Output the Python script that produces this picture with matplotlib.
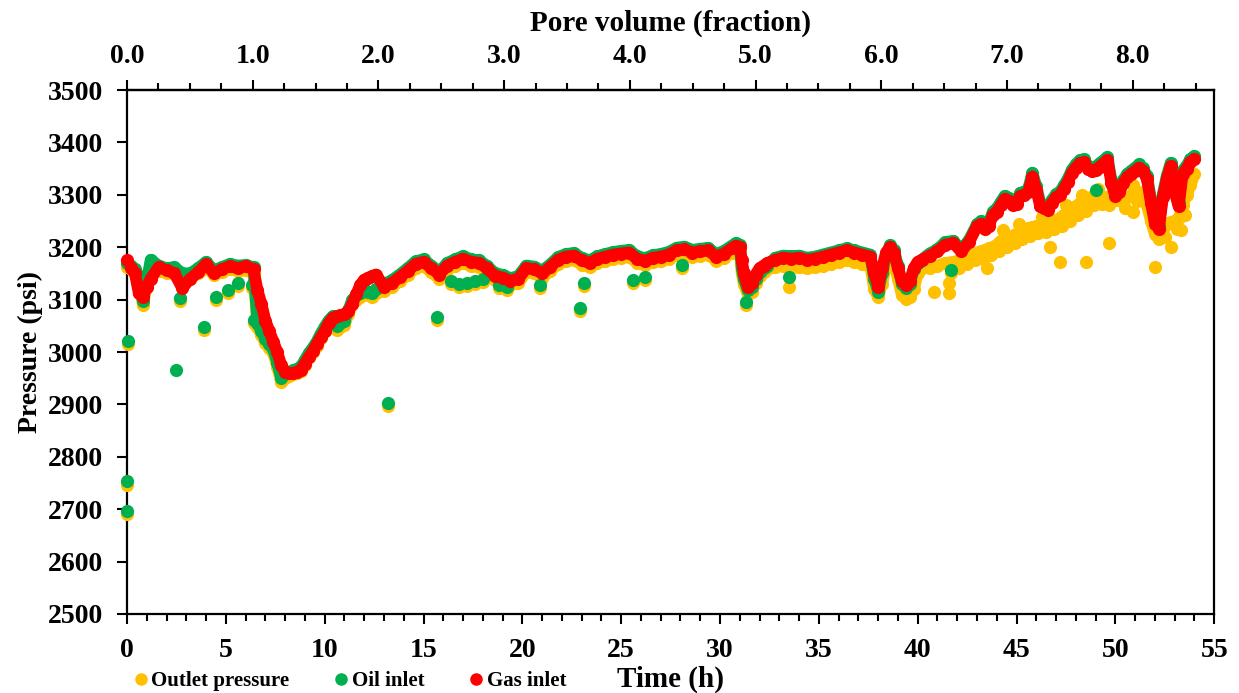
import matplotlib
matplotlib.use("Agg")
import matplotlib.pyplot as plt
from matplotlib.ticker import MultipleLocator, FormatStrFormatter
from matplotlib.lines import Line2D

# main logged curve: time (h) and the three pressures (psi)
time_h = [
    0.0, 0.2, 0.4, 0.6, 0.8, 1.0, 1.2, 1.6, 2.0, 2.4, 2.8, 3.2, 3.6, 4.0, 4.4, 4.8, 5.2, 5.6, 6.0, 6.4,
    6.6, 6.8, 7.0, 7.2, 7.4, 7.6, 7.8, 8.0, 8.2, 8.4, 8.6, 8.8, 9.0, 9.2, 9.4, 9.6, 9.8, 10.0, 10.2, 10.4,
    10.6, 10.8, 11.0, 11.2, 11.4, 11.6, 11.8, 12.0, 12.2, 12.4, 12.6,
    13.0, 13.4, 13.8, 14.2, 14.6, 15.0, 15.4, 15.8, 16.2, 16.6, 17.0, 17.4, 17.8, 18.2, 18.6, 19.0, 19.4,
    19.8, 20.2, 20.6, 21.0, 21.4, 21.8, 22.2, 22.6, 23.0, 23.4, 23.8, 24.2, 24.6, 25.0, 25.4, 25.8, 26.2,
    26.6, 27.0, 27.4, 27.8, 28.2, 28.6, 29.0, 29.4, 29.8, 30.2, 30.6,
    30.8, 31.0, 31.1, 31.2, 31.4, 31.6, 31.8, 32.0, 32.2, 32.4,
    32.8, 33.2, 33.6, 34.0, 34.4, 34.8, 35.2, 35.6, 36.0, 36.4, 36.8, 37.2, 37.6,
    37.8, 38.0, 38.2, 38.4, 38.6, 38.8, 39.0, 39.2, 39.4, 39.6, 39.8, 40.0, 40.2,
    40.6, 41.0, 41.4, 41.8, 42.2, 42.6, 43.0,
    43.2, 43.4, 43.6, 43.8, 44.0, 44.2, 44.4, 44.6, 44.8, 45.0, 45.2, 45.4, 45.6, 45.8, 46.0, 46.2, 46.4,
    46.6, 46.8, 47.0, 47.2, 47.4, 47.6, 47.8, 48.0, 48.2, 48.4, 48.6, 48.8, 49.0, 49.2, 49.4, 49.6, 49.8,
    50.0, 50.2, 50.4, 50.6, 50.8, 51.0, 51.2, 51.4, 51.6, 51.8, 52.0, 52.2, 52.4, 52.6, 52.8, 53.0, 53.2,
    53.4, 53.6, 53.8, 54.0,
]

gas_inlet = [
    3175, 3160, 3150, 3112, 3105, 3125, 3140, 3162, 3156, 3150, 3122, 3140, 3152, 3168, 3150, 3158, 3164, 3160, 3164, 3158,
    3118, 3092, 3060, 3040, 3020, 3000, 2975, 2962, 2960, 2960, 2962, 2966, 2978, 2990, 3002, 3015, 3028, 3040, 3055, 3065,
    3068, 3070, 3072, 3078, 3092, 3110, 3128, 3138, 3142, 3145, 3148,
    3125, 3132, 3143, 3155, 3168, 3172, 3160, 3148, 3165, 3172, 3178, 3172, 3170, 3160, 3146, 3142, 3136,
    3140, 3160, 3158, 3150, 3162, 3176, 3182, 3184, 3175, 3170, 3178, 3182, 3186, 3188, 3190, 3178, 3174,
    3180, 3182, 3186, 3194, 3196, 3190, 3192, 3194, 3182, 3188, 3198,
    3203, 3200, 3175, 3150, 3125, 3132, 3148, 3160, 3165, 3170,
    3176, 3180, 3178, 3180, 3176, 3178, 3182, 3186, 3190, 3194, 3190, 3186, 3182,
    3150, 3125, 3160, 3190, 3200, 3190, 3160, 3135, 3128, 3135, 3160, 3172, 3176,
    3184, 3192, 3205, 3208, 3192, 3210, 3240,
    3245, 3235, 3240, 3262, 3268, 3280, 3292, 3288, 3280, 3282, 3298, 3300, 3305, 3335, 3310, 3278, 3275,
    3272, 3285, 3295, 3300, 3312, 3325, 3342, 3352, 3360, 3362, 3350, 3345, 3348, 3354, 3360, 3366, 3322,
    3298, 3305, 3322, 3334, 3340, 3346, 3352, 3345, 3330, 3285, 3245, 3235, 3295, 3330, 3355, 3305, 3278,
    3340, 3350, 3362, 3368,
]

oil_inlet = [
    3170, 3165, 3158, 3145, 3098, 3135, 3176, 3165, 3160, 3162, 3150, 3150, 3160, 3172, 3156, 3162, 3168, 3165, 3166, 3162,
    3055, 3040, 3025, 3015, 3005, 2980, 2950, 2958, 2962, 2965, 2968, 2972, 2985, 2998, 3008, 3020, 3035, 3048, 3060, 3068,
    3050, 3055, 3060, 3080, 3100, 3108, 3112, 3120, 3115, 3112, 3120,
    3130, 3137, 3148, 3160, 3173, 3177, 3165, 3153, 3170, 3177, 3183, 3177, 3175, 3165, 3151, 3147, 3141,
    3145, 3165, 3163, 3155, 3167, 3181, 3187, 3189, 3180, 3175, 3183, 3187, 3191, 3193, 3195, 3183, 3179,
    3185, 3187, 3191, 3199, 3201, 3195, 3197, 3199, 3187, 3193, 3203,
    3208, 3205, 3160, 3140, 3118, 3125, 3140, 3152, 3160, 3165,
    3180, 3184, 3183, 3184, 3180, 3182, 3186, 3190, 3194, 3198, 3194, 3190, 3186,
    3140, 3115, 3150, 3185, 3204, 3194, 3165, 3130, 3122, 3130, 3158, 3170, 3176,
    3188, 3196, 3210, 3212, 3196, 3214, 3244,
    3250, 3240, 3246, 3268, 3274, 3286, 3298, 3294, 3286, 3288, 3304, 3306, 3312, 3342, 3316, 3284, 3281,
    3278, 3291, 3301, 3306, 3318, 3331, 3348, 3358, 3366, 3368, 3356, 3351, 3354, 3360, 3366, 3372, 3328,
    3304, 3311, 3328, 3340, 3346, 3352, 3358, 3351, 3336, 3291, 3251, 3241, 3301, 3336, 3361, 3311, 3284,
    3346, 3356, 3368, 3374,
]

outlet_pressure = [
    3162, 3158, 3150, 3138, 3090, 3125, 3165, 3155, 3150, 3152, 3140, 3140, 3150, 3160, 3148, 3152, 3158, 3155, 3156, 3150,
    3048, 3033, 3018, 3008, 2998, 2972, 2942, 2950, 2955, 2958, 2960, 2964, 2976, 2990, 3000, 3012, 3026, 3040, 3052, 3060,
    3042, 3047, 3052, 3072, 3092, 3100, 3105, 3112, 3108, 3105, 3112,
    3117, 3124, 3135, 3147, 3160, 3164, 3152, 3140, 3157, 3164, 3170, 3164, 3162, 3152, 3138, 3134, 3128,
    3132, 3152, 3150, 3142, 3154, 3168, 3174, 3176, 3167, 3162, 3170, 3174, 3178, 3180, 3182, 3170, 3166,
    3172, 3174, 3178, 3186, 3188, 3182, 3184, 3186, 3174, 3180, 3190,
    3196, 3192, 3150, 3130, 3110, 3115, 3132, 3145, 3152, 3158,
    3162, 3165, 3160, 3162, 3160, 3162, 3165, 3168, 3172, 3175, 3172, 3168, 3165,
    3120, 3105, 3130, 3165, 3180, 3170, 3140, 3108, 3102, 3105, 3120, 3150, 3160,
    3160, 3165, 3170, 3172, 3176, 3182, 3190,
    3192, 3195, 3198, 3200, 3205, 3212, 3215, 3218, 3222, 3226, 3230, 3232, 3236, 3238, 3240, 3242, 3244,
    3246, 3248, 3252, 3256, 3262, 3266, 3272, 3278, 3284, 3290, 3294, 3296, 3298, 3298, 3296, 3295, 3292,
    3290, 3290, 3292, 3296, 3300, 3303, 3305, 3300, 3280, 3250, 3225, 3215, 3235, 3245, 3248, 3250, 3255,
    3280, 3300, 3318, 3340,
]

# scattered oil-inlet readings
oil_extra_t = [0.05, 0.02, 0.0, 2.5, 2.7, 3.9, 4.5, 5.1, 5.6, 6.3, 6.4, 13.2, 15.7, 16.4, 16.8, 17.2,
               17.6, 18.0, 18.8, 19.2, 20.9, 22.9, 23.1, 25.6, 26.2, 28.1, 31.3, 33.5, 41.7, 49.0]
oil_extra_p = [3021, 2753, 2697, 2966, 3103, 3048, 3105, 3118, 3132, 3128, 3062, 2903, 3067, 3135, 3130, 3132,
               3136, 3140, 3128, 3125, 3128, 3085, 3132, 3137, 3143, 3166, 3095, 3143, 3157, 3309]

# scattered outlet readings (under the oil points and the wide band after 40 h)
outlet_extra_t = [0.05, 0.02, 0.0, 2.7, 3.9, 4.5, 5.1, 5.6, 6.3, 6.4, 13.2, 15.7, 16.4, 16.8, 17.2,
                  17.6, 18.0, 18.8, 19.2, 20.9, 22.9, 23.1, 25.6, 26.2, 28.1, 31.3, 33.5, 41.7,
                  40.8, 41.6, 41.6, 43.5, 46.7, 48.5, 49.7, 50.9, 52.0, 52.8, 53.3, 47.2,
                  42.1, 42.5, 42.9, 43.3, 43.7, 44.1, 44.5, 44.9, 45.3, 45.7, 46.1, 46.5, 46.9, 47.3,
                  47.7, 48.1, 48.5, 48.9, 49.3, 49.7, 50.5, 51.1, 52.5, 53.1, 53.5,
                  44.3, 45.1, 46.3, 47.5, 48.3, 49.1, 50.9, 53.7]
outlet_extra_p = [3015, 2747, 2691, 3097, 3042, 3099, 3112, 3126, 3122, 3056, 2897, 3061, 3129, 3124, 3126,
                  3130, 3134, 3122, 3119, 3122, 3079, 3126, 3131, 3137, 3160, 3089, 3124, 3151,
                  3114, 3112, 3132, 3160, 3200, 3172, 3208, 3267, 3162, 3200, 3233, 3172,
                  3160, 3168, 3175, 3178, 3185, 3192, 3200, 3208, 3215, 3222, 3228, 3230, 3235, 3240,
                  3250, 3262, 3270, 3280, 3282, 3280, 3275, 3288, 3220, 3235, 3262,
                  3232, 3245, 3258, 3280, 3300, 3312, 3318, 3330]

pv_ticks = [0, 1, 2, 3, 4, 5, 6, 7, 8]
HOURS_PER_PV = 6.36

c_out = "#FFC000"
c_oil = "#00B050"
c_gas = "#FF0000"

plt.rcParams["font.family"] = ["Liberation Serif", "DejaVu Serif"]
plt.rcParams["font.weight"] = "bold"

fig = plt.figure(figsize=(12.39, 6.93), dpi=100)
ax = fig.add_axes([0.1025, 0.114, 0.8775, 0.756])

ms = 90
lw = 8.5
# the logger points are so dense they merge into a band; join them to get that look
ax.plot(time_h, outlet_pressure, color=c_out, lw=lw, solid_capstyle="round", solid_joinstyle="round", zorder=3)
ax.scatter(outlet_extra_t, outlet_extra_p, s=ms, color=c_out, lw=0, zorder=3, clip_on=False)
ax.scatter(time_h, outlet_pressure, s=ms, color=c_out, lw=0, zorder=3, clip_on=False)
ax.plot(time_h, oil_inlet, color=c_oil, lw=lw, solid_capstyle="round", solid_joinstyle="round", zorder=4)
ax.scatter(oil_extra_t, oil_extra_p, s=ms, color=c_oil, lw=0, zorder=4, clip_on=False)
ax.scatter(time_h, oil_inlet, s=ms, color=c_oil, lw=0, zorder=4, clip_on=False)
ax.plot(time_h, gas_inlet, color=c_gas, lw=lw, solid_capstyle="round", solid_joinstyle="round", zorder=5)
ax.scatter(time_h, gas_inlet, s=ms, color=c_gas, lw=0, zorder=5, clip_on=False)

ax.set_xlim(0, 55)
ax.set_ylim(2500, 3500)
ax.xaxis.set_major_locator(MultipleLocator(5))
ax.xaxis.set_minor_locator(MultipleLocator(1))
ax.yaxis.set_major_locator(MultipleLocator(100))
ax.tick_params(axis="x", which="major", direction="out", length=7, width=1.5, pad=10, labelsize=20)
ax.tick_params(axis="x", which="minor", direction="out", length=5, width=1.5)
ax.tick_params(axis="y", which="major", direction="out", length=7, width=1.5, pad=10, labelsize=20)
for sp in ax.spines.values():
    sp.set_linewidth(1.6)

ax.set_xlabel("Time (h)", fontsize=21, fontweight="bold", labelpad=2)
ax.set_ylabel("Pressure (psi)", fontsize=20, fontweight="bold", labelpad=4)

top = ax.secondary_xaxis("top", functions=(lambda t: t / HOURS_PER_PV, lambda pv: pv * HOURS_PER_PV))
top.set_xticks(pv_ticks)
top.xaxis.set_minor_locator(MultipleLocator(0.25))
top.xaxis.set_major_formatter(FormatStrFormatter("%.1f"))
top.tick_params(which="major", direction="out", length=7, width=1.5, pad=8, labelsize=20)
top.tick_params(which="minor", direction="out", length=5, width=1.5)
top.spines["top"].set_linewidth(1.6)
top.set_xlabel("Pore volume (fraction)", fontsize=21, fontweight="bold", labelpad=10)

handles = [
    Line2D([], [], ls="", marker="o", ms=8, color=c_out, label="Outlet pressure"),
    Line2D([], [], ls="", marker="o", ms=8, color=c_oil, label="Oil inlet"),
    Line2D([], [], ls="", marker="o", ms=8, color=c_gas, label="Gas inlet"),
]
fig.legend(handles=handles, loc="center left", bbox_to_anchor=(0.105, 0.017), ncol=3,
           frameon=False, handletextpad=0.0, columnspacing=2.0, handlelength=1.0,
           borderaxespad=0, borderpad=0, prop={"family": "Liberation Serif", "weight": "bold", "size": 15})

fig.savefig("out.png", dpi=100)
